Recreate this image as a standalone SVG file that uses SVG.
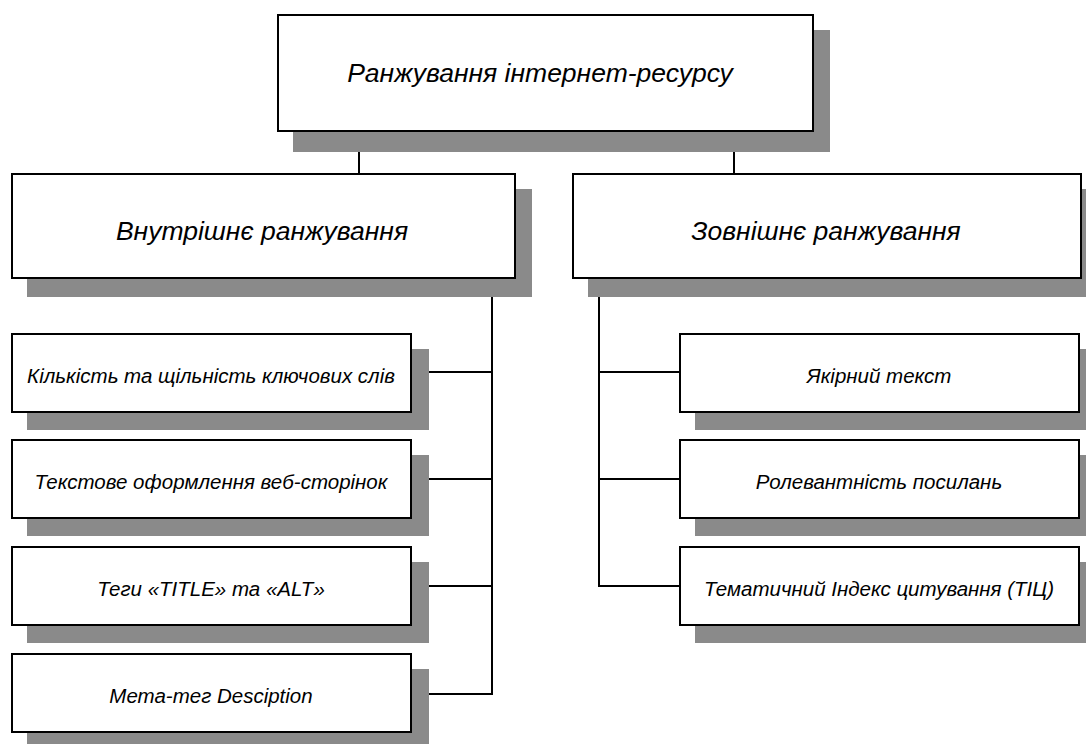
<svg xmlns="http://www.w3.org/2000/svg" width="1086" height="744" viewBox="0 0 1086 744">
  <style>
    .box { fill: #ffffff; stroke: #000000; stroke-width: 2; }
    .shadow { fill: #8a8a8a; stroke: none; }
    .link { stroke: #000000; stroke-width: 2; fill: none; }
    .lbl { font-family: "Liberation Sans", Arial, sans-serif; font-style: italic; fill: #000000; text-anchor: middle; }
    .big { font-size: 26.5px; }
    .small { font-size: 20.5px; }
  </style>
  <rect width="1086" height="744" fill="#ffffff"/>

  <!-- connectors -->
  <g id="connectors">
    <line class="link" x1="359" y1="132" x2="359" y2="174"/>
    <line class="link" x1="734" y1="132" x2="734" y2="174"/>
    <polyline class="link" points="492,279 492,694 412,694"/>
    <line class="link" x1="412" y1="372" x2="492" y2="372"/>
    <line class="link" x1="412" y1="479" x2="492" y2="479"/>
    <line class="link" x1="412" y1="586" x2="492" y2="586"/>
    <polyline class="link" points="599,279 599,586 680,586"/>
    <line class="link" x1="599" y1="372" x2="680" y2="372"/>
    <line class="link" x1="599" y1="479" x2="680" y2="479"/>
  </g>

  <g id="root">
    <rect class="shadow" x="293" y="30" width="537" height="122"/>
    <rect class="box" x="278" y="15" width="535" height="116"/>
    <text class="lbl big" x="540" y="82">Ранжування інтернет-ресурсу</text>
  </g>

  <g id="internal">
    <rect class="shadow" x="27" y="189" width="505" height="108"/>
    <rect class="box" x="12" y="174" width="503" height="104"/>
    <text class="lbl big" x="262" y="240">Внутрішнє ранжування</text>
  </g>

  <g id="external">
    <rect class="shadow" x="588" y="189" width="510" height="108"/>
    <rect class="box" x="573" y="174" width="508" height="104"/>
    <text class="lbl big" x="826" y="240">Зовнішнє ранжування</text>
  </g>

  <g id="keywords">
    <rect class="shadow" x="27" y="349" width="402" height="81"/>
    <rect class="box" x="12" y="334" width="399" height="78"/>
    <text class="lbl small" x="211" y="383">Кількість та щільність ключових слів</text>
  </g>

  <g id="text-layout">
    <rect class="shadow" x="27" y="455" width="402" height="81"/>
    <rect class="box" x="12" y="440" width="399" height="78"/>
    <text class="lbl small" x="211" y="489">Текстове оформлення веб-сторінок</text>
  </g>

  <g id="tags">
    <rect class="shadow" x="27" y="562" width="402" height="81"/>
    <rect class="box" x="12" y="547" width="399" height="78"/>
    <text class="lbl small" x="211" y="596">Теги «TITLE» та «ALT»</text>
  </g>

  <g id="meta">
    <rect class="shadow" x="27" y="669" width="402" height="81"/>
    <rect class="box" x="12" y="654" width="399" height="78"/>
    <text class="lbl small" x="211" y="703">Мета-тег Desciption</text>
  </g>

  <g id="anchor-text">
    <rect class="shadow" x="695" y="349" width="402" height="81"/>
    <rect class="box" x="680" y="334" width="399" height="78"/>
    <text class="lbl small" x="879" y="383">Якірний текст</text>
  </g>

  <g id="link-relevance">
    <rect class="shadow" x="695" y="455" width="402" height="81"/>
    <rect class="box" x="680" y="440" width="399" height="78"/>
    <text class="lbl small" x="879" y="489">Ролевантність посилань</text>
  </g>

  <g id="citation-index">
    <rect class="shadow" x="695" y="562" width="402" height="81"/>
    <rect class="box" x="680" y="547" width="399" height="78"/>
    <text class="lbl small" x="879" y="596">Тематичний Індекс цитування (ТІЦ)</text>
  </g>
</svg>
